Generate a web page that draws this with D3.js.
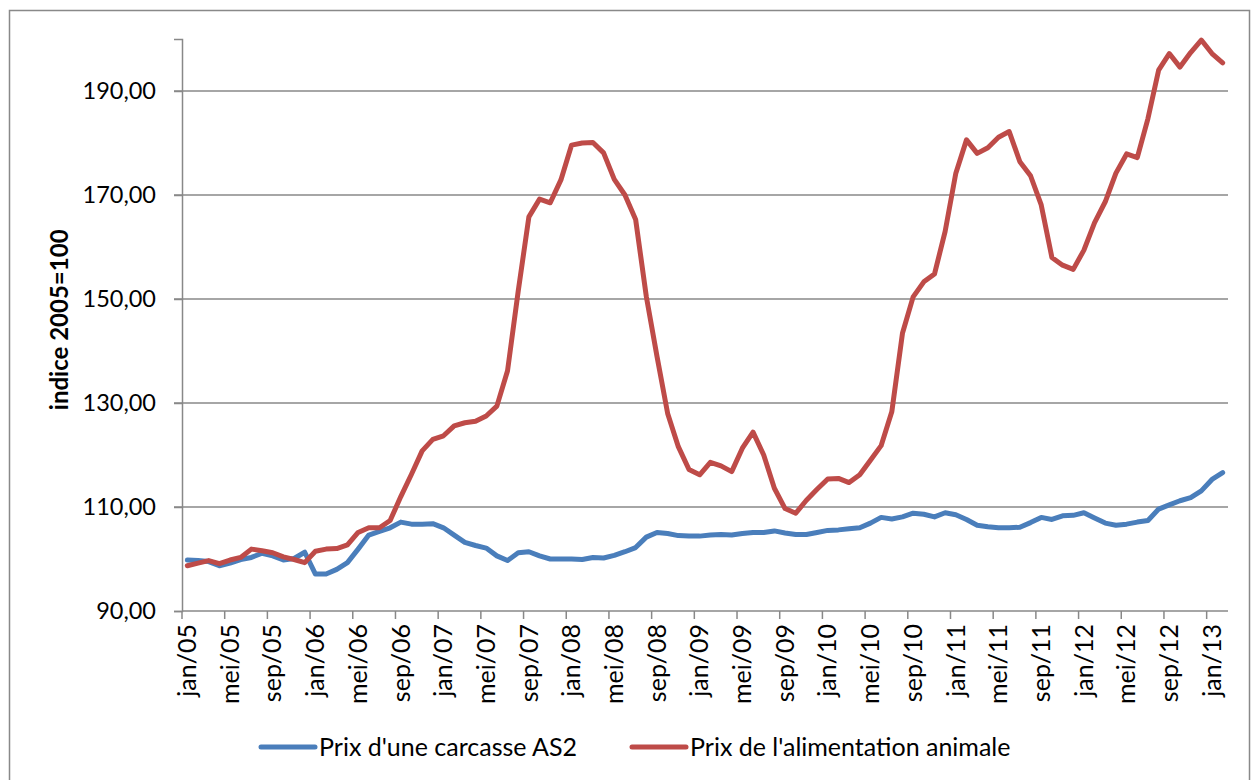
<!DOCTYPE html>
<html>
<head>
<meta charset="utf-8">
<script src="https://cdn.jsdelivr.net/npm/d3@7"></script>
<style>
  body { margin: 0; background: #fff; }
  svg { font-family: Lato, "Open Sans", sans-serif; }
</style>
</head>
<body>
<div id="chart"></div>
<script>
// monthly indices, jan/05 .. feb/13 (2005 = 100)
const monthNames = ["jan", "feb", "mrt", "apr", "mei", "jun", "jul", "aug", "sep", "okt", "nov", "dec"];
const months = d3.range(98).map(i => monthNames[i % 12] + "/" + String(5 + Math.floor(i / 12)).padStart(2, "0"));

const carcasse = [
  99.8, 99.7, 99.5, 98.7, 99.2, 99.9, 100.3, 101.1, 100.6, 99.8, 100.1, 101.3,
  97.1, 97.1, 98.0, 99.3, 101.9, 104.6, 105.3, 106.0, 107.1, 106.7, 106.7, 106.8,
  106.0, 104.6, 103.2, 102.6, 102.1, 100.6, 99.7, 101.2, 101.4, 100.6, 100.0, 100.0,
  100.0, 99.9, 100.3, 100.2, 100.7, 101.4, 102.2, 104.2, 105.1, 104.9, 104.5, 104.4,
  104.4, 104.6, 104.7, 104.6, 104.9, 105.1, 105.1, 105.4, 105.0, 104.7, 104.7, 105.1,
  105.5, 105.6, 105.8, 106.0, 106.9, 108.0, 107.7, 108.1, 108.8, 108.6, 108.1, 108.9,
  108.5, 107.6, 106.5, 106.2, 106.0, 106.0, 106.1, 107.0, 108.0, 107.6, 108.3, 108.4,
  108.9, 107.9, 106.9, 106.5, 106.7, 107.1, 107.4, 109.6, 110.4, 111.2, 111.8, 113.1,
  115.3, 116.6
];

const alimentation = [
  98.7, 99.2, 99.7, 99.1, 99.8, 100.3, 101.9, 101.6, 101.2, 100.4, 99.9, 99.3,
  101.5, 101.9, 102.0, 102.7, 105.1, 106.0, 106.0, 107.4, 112.0, 116.3, 120.8, 123.0,
  123.7, 125.6, 126.2, 126.5, 127.5, 129.4, 136.2, 151.5, 165.8, 169.2, 168.5, 172.9,
  179.6, 180.0, 180.1, 178.1, 173.0, 170.0, 165.3, 150.5, 139.0, 128.0, 121.6, 117.2,
  116.2, 118.6, 117.9, 116.8, 121.3, 124.4, 120.0, 113.6, 109.7, 108.8, 111.3, 113.4,
  115.4, 115.5, 114.7, 116.2, 119.0, 121.8, 128.3, 143.4, 150.4, 153.3, 154.8, 163.0,
  174.2, 180.6, 178.0, 179.1, 181.1, 182.2, 176.4, 173.7, 168.1, 158.0, 156.5, 155.7,
  159.4, 164.7, 168.7, 174.2, 177.9, 177.2, 184.7, 194.0, 197.2, 194.6, 197.4, 199.8,
  197.2, 195.4
];

const yTicks = [90, 110, 130, 150, 170, 190];
const seriesNames = ["Prix d'une carcasse AS2", "Prix de l'alimentation animale"];
const seriesColors = ["#4a7ebb", "#be4b48"];

const width = 1252, height = 780;
const margin = {top: 39, right: 24, bottom: 169, left: 182};

const svg = d3.select("#chart").append("svg")
  .attr("width", width)
  .attr("height", height);

// outer chart border
svg.append("rect")
  .attr("x", 9.5).attr("y", 10.5)
  .attr("width", 1240).attr("height", 780)
  .attr("fill", "none")
  .attr("stroke", "#898989")
  .attr("stroke-width", 1.5);

const x = d3.scaleBand()
  .domain(months)
  .range([margin.left, width - margin.right])
  .padding(0);

const y = d3.scaleLinear()
  .domain([90, 200])
  .range([height - margin.bottom, margin.top]);

// gridlines + left tick marks
svg.append("g")
  .selectAll("line")
  .data(yTicks.slice(1))
  .join("line")
    .attr("x1", margin.left - 8)
    .attr("x2", width - margin.right)
    .attr("y1", d => y(d))
    .attr("y2", d => y(d))
    .attr("stroke", "#888")
    .attr("stroke-width", 1.5);

// y axis
svg.append("g")
  .attr("transform", `translate(${margin.left},0)`)
  .call(d3.axisLeft(y).tickValues(yTicks).tickSize(8).tickPadding(18)
    .tickFormat(d => d3.format(".2f")(d).replace(".", ",")))
  .call(g => g.selectAll(".domain, .tick line").attr("stroke", "#888").attr("stroke-width", 1.5))
  .call(g => g.selectAll("text").attr("font-size", 23.5).attr("fill", "#000")
    .attr("font-family", "Lato, sans-serif"));

// x axis: ticks every 4 months at category boundaries
const tickMonths = months.filter((m, i) => i % 4 === 0);
const xAxis = svg.append("g")
  .attr("transform", `translate(0,${y(90)})`);

xAxis.append("line")
  .attr("x1", margin.left).attr("x2", width - margin.right)
  .attr("stroke", "#888").attr("stroke-width", 1.5);

xAxis.selectAll("line.tick")
  .data(tickMonths)
  .join("line")
    .attr("class", "tick")
    .attr("x1", d => x(d)).attr("x2", d => x(d))
    .attr("y1", 0).attr("y2", 8)
    .attr("stroke", "#888").attr("stroke-width", 1.5);

xAxis.selectAll("text")
  .data(tickMonths)
  .join("text")
    .attr("transform", d => `translate(${x(d) + x.bandwidth() / 2},13) rotate(-90)`)
    .attr("text-anchor", "end")
    .attr("dy", "0.35em")
    .attr("font-size", 25)
    .text(d => d);

// y title
svg.append("text")
  .attr("transform", `translate(60,${y(146)}) rotate(-90)`)
  .attr("text-anchor", "middle")
  .attr("dy", "0.35em")
  .attr("font-weight", "bold")
  .attr("font-size", 24)
  .text("indice 2005=100");

const line = d3.line()
  .x((d, i) => x(months[i]) + x.bandwidth() / 2)
  .y(d => y(d));

svg.append("g")
  .selectAll("path")
  .data([carcasse, alimentation])
  .join("path")
    .attr("fill", "none")
    .attr("stroke", (d, i) => seriesColors[i])
    .attr("stroke-width", 5)
    .attr("stroke-linejoin", "round")
    .attr("stroke-linecap", "round")
    .attr("d", line);

// legend
const legend = svg.append("g");
const legendX = [261, 632];
seriesNames.forEach((name, i) => {
  const g = legend.append("g").attr("transform", `translate(${legendX[i]},747)`);
  g.append("line")
    .attr("x1", 0).attr("x2", 54)
    .attr("stroke", seriesColors[i])
    .attr("stroke-width", 5)
    .attr("stroke-linecap", "round");
  g.append("text")
    .attr("x", 58)
    .attr("dy", "0.35em")
    .attr("font-size", 25)
    .text(name);
});
</script>
</body>
</html>
